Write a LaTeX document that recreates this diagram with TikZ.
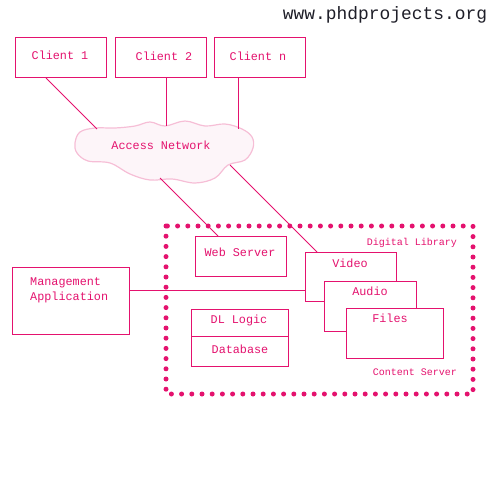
\documentclass[tikz,border=0pt]{standalone}
\usepackage{fontspec}
\setmonofont{Liberation Mono}
\usetikzlibrary{calc}
\definecolor{pk}{RGB}{228,18,110}
\definecolor{cloudline}{RGB}{246,190,214}
\definecolor{cloudfill}{RGB}{253,245,249}
\definecolor{urlc}{RGB}{30,30,40}
\begin{document}
\begin{tikzpicture}[x=1pt,y=-1pt,
  box/.style={draw=pk,line width=1pt,fill=white,rectangle,inner sep=0pt,anchor=north west},
  lbl/.style={text=pk,font=\ttfamily\fontsize{11.8}{13}\selectfont,inner sep=0pt},
  small/.style={text=pk,font=\ttfamily\fontsize{10}{12}\selectfont,inner sep=0pt},
  conn/.style={draw=pk,line width=0.9pt}]
\useasboundingbox (0,0) rectangle (500,500);
\node[font=\ttfamily\fontsize{17.9}{20}\selectfont,text=urlc,inner sep=0pt] (url) at (385,15) {www.phdprojects.org};
% clients
\node[box,minimum width=91pt,minimum height=40pt] (c1) at (15,37) {};
\node[box,minimum width=91pt,minimum height=40pt] (c2) at (115,37) {};
\node[box,minimum width=91pt,minimum height=40pt] (cn) at (214,37) {};
\node[lbl] (c1t) at (60,55) {Client 1};
\node[lbl] (c2t) at (164,56) {Client 2};
\node[lbl] (cnt) at (258,56) {Client n};
% cloud
\draw[draw=cloudline,fill=cloudfill,line width=1.2pt] plot[smooth cycle,tension=0.6] coordinates {
 (75,143) (80,132) (95,128) (115,128) (135,126) (150,122) (165,126) (185,121) (205,126) (225,124) (242,129) (252,137) (253,148) (245,160) (228,165) (215,178) (195,183) (172,179) (150,180) (130,174) (110,163) (88,161) (77,153)};
\node[lbl] (net) at (161,145) {Access Network};
\coordinate (n1) at (97,129);
\coordinate (n2) at (166,126);
\coordinate (n3) at (238,129);
\coordinate (n4) at (160,178);
\coordinate (n5) at (230,165);
\draw[conn] ($(c1.south west)+(31,0)$) -- (n1);
\draw[conn] ($(c2.south west)+(51,0)$) -- (n2);
\draw[conn] ($(cn.south west)+(24,0)$) -- (n3);
% server region
\draw[pk,line width=5pt,line cap=round,dash pattern=on 0pt off 10.2pt] (166,226) rectangle (473,394);
\node[small,anchor=east] (dl) at (457,243) {Digital Library};
\node[small,anchor=east] (cs) at (457,372) {Content Server};
% management
\node[box,minimum width=117pt,minimum height=67pt] (mg) at (12,267) {};
\node[lbl,anchor=west] (mg1) at (30,283) {Management};
\node[lbl,anchor=west] (mg2) at (30,297) {Application};
% web server
\node[box,minimum width=91pt,minimum height=40pt] (ws) at (195,236) {};
\node[lbl] (wst) at (240,252) {Web Server};
% media stack
\node[box,minimum width=91pt,minimum height=49pt] (vid) at (305,252) {};
\node[box,minimum width=92pt,minimum height=50pt] (aud) at (324,281) {};
\node[box,minimum width=97pt,minimum height=50pt] (fil) at (346,308) {};
\node[lbl] (vidt) at (350,263) {Video};
\node[lbl] (audt) at (370,291) {Audio};
\node[lbl] (filt) at (390,318) {Files};
% DL logic / database
\node[box,minimum width=97pt,minimum height=57pt] (dbx) at (191,309) {};
\draw[pk,line width=1pt] ($(dbx.north west)+(0,27)$) -- ($(dbx.north east)+(0,27)$);
\node[lbl] (dlt) at (239,320) {DL Logic};
\node[lbl] (dbt) at (240,349) {Database};
% connectors
\draw[conn] (n4) -- ($(ws.north west)+(23,0)$);
\draw[conn] (n5) -- ($(vid.north west)+(12,0)$);
\draw[conn] ($(mg.north east)+(0,23)$) -- ($(vid.north west)+(0,38)$);
\end{tikzpicture}
\end{document}
